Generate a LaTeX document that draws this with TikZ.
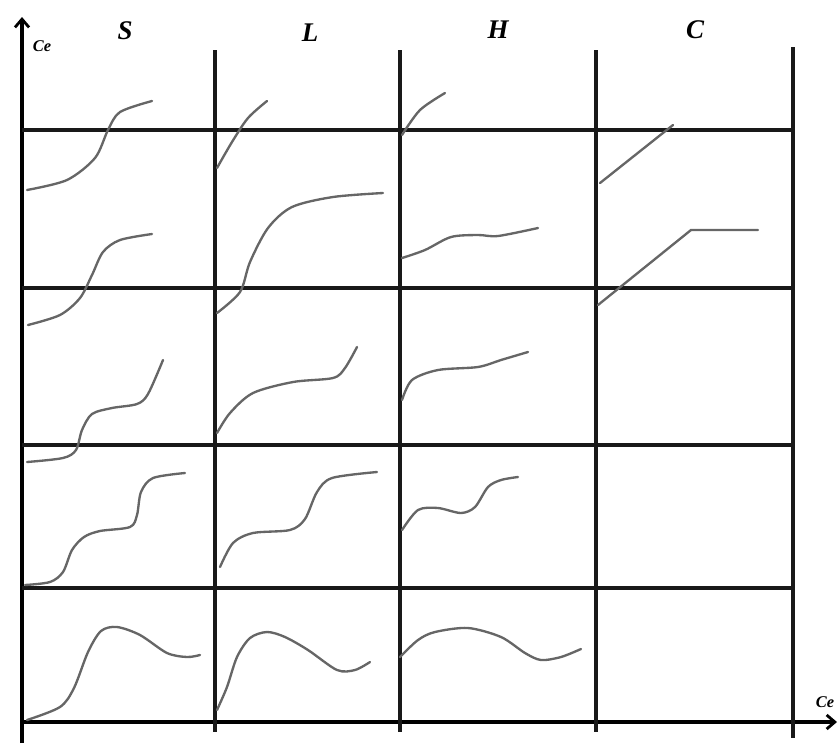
\documentclass[tikz,border=0pt]{standalone}
\usepackage{fontspec}
\setmainfont{Liberation Serif}
\usetikzlibrary{arrows.meta}
\tikzset{
  grid line/.style={line width=3pt,black!90},
  axis line/.style={line width=3pt,black,-{Straight Barb[length=7pt,width=12pt,line width=2.4pt]}},
  isotherm curve/.style={line width=2pt,black!60,smooth,line cap=round},
  class label/.style={font=\fontsize{23}{25}\selectfont\bfseries\itshape},
  axis label/.style={font=\fontsize{14}{15}\selectfont\bfseries\itshape,inner sep=1pt},
  >=Stealth,
}
\begin{document}
\begin{tikzpicture}[x=0.03cm,y=-0.03cm]
\useasboundingbox (0,0) rectangle (838,743);
% axes and grid
\coordinate (yfoot) at (22,743);
\coordinate (ytip) at (22,17);
\coordinate (xfoot) at (22,722);
\coordinate (xtip) at (837,722);
\draw[axis line] (yfoot) -- (ytip);
\draw[axis line] (xfoot) -- (xtip);
\foreach \gx in {215,400,596} \draw[grid line] (\gx,50) -- (\gx,732);
\draw[grid line] (793,47) -- (793,738);
\foreach \gy in {130,288,445,588} \draw[grid line] (22,\gy) -- (793,\gy);
\node[axis label] (ylab) at (42,46) {Ce};
\node[axis label] (xlab) at (825,702) {Ce};
\node[class label] (colS) at (125,31) {S};
\node[class label] (colL) at (310,33) {L};
\node[class label] (colH) at (498,30) {H};
\node[class label] (colC) at (695,30) {C};
% S class
\draw[isotherm curve] plot coordinates {(27,190) (67,180) (95,158) (108,130) (120,112) (152,101)};
\draw[isotherm curve] plot coordinates {(28,325) (60,315) (80,298) (92,275) (103,252) (120,240) (152,234)};
\draw[isotherm curve] plot coordinates {(27,462) (63,458) (76,450) (82,430) (92,414) (112,408) (137,404) (148,394) (163,360)};
\draw[isotherm curve] plot coordinates {(25,585) (50,582) (63,572) (72,550) (84,537) (100,531) (130,527) (137,515) (141,492) (153,478) (185,473)};
\draw[isotherm curve] plot coordinates {(27,720) (60,707) (74,688) (88,652) (101,631) (117,627) (140,635) (167,653) (187,657) (200,655)};
% L class
\draw[isotherm curve] plot coordinates {(217,168) (232,142) (248,118) (267,101)};
\draw[isotherm curve] plot coordinates {(217,313) (240,292) (250,262) (268,228) (292,207) (333,197) (383,193)};
\draw[isotherm curve] plot coordinates {(217,433) (230,413) (253,393) (293,382) (333,378) (345,368) (357,347)};
\draw[isotherm curve] plot coordinates {(220,567) (233,543) (253,533) (290,530) (305,519) (317,492) (332,478) (377,472)};
\draw[isotherm curve] plot coordinates {(217,710) (227,687) (237,657) (250,638) (267,632) (285,637) (308,650) (337,670) (355,670) (370,662)};
% H class
\draw[isotherm curve] plot coordinates {(402,135) (420,110) (445,93)};
\draw[isotherm curve] plot coordinates {(402,258) (425,250) (451,237) (478,235) (498,236) (538,228)};
\draw[isotherm curve] plot coordinates {(402,400) (412,380) (438,370) (478,367) (501,360) (528,352)};
\draw[isotherm curve] plot coordinates {(402,530) (418,510) (438,508) (461,513) (475,507) (488,487) (501,480) (518,477)};
\draw[isotherm curve] plot coordinates {(400,657) (418,640) (435,632) (468,628) (501,637) (525,653) (541,660) (561,657) (581,649)};
% C class
\draw[isotherm curve] (600,183) -- (673,125);
\draw[isotherm curve] (598,305) -- (691,230) -- (758,230);
\end{tikzpicture}
\end{document}
